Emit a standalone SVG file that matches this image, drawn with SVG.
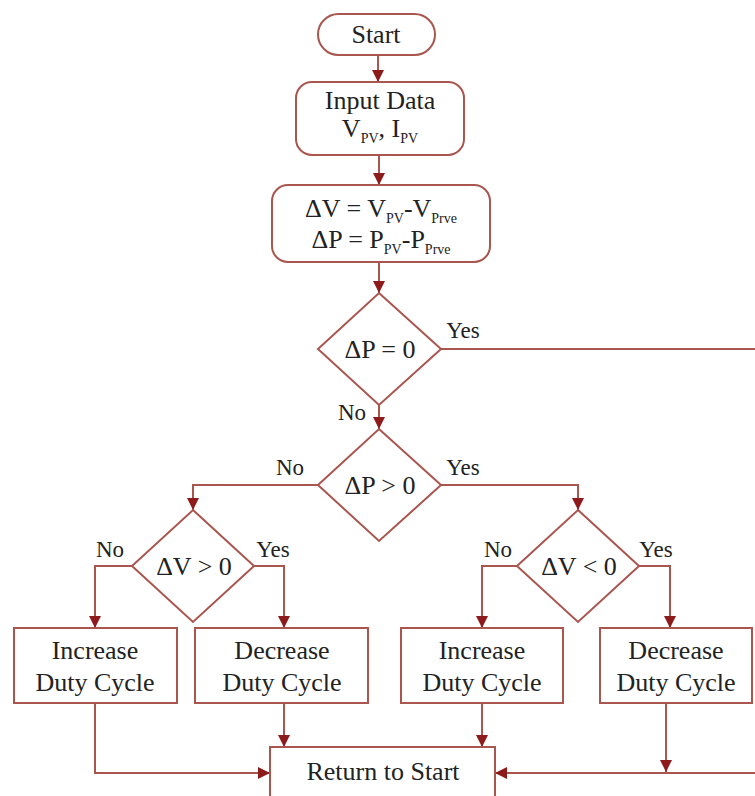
<svg xmlns="http://www.w3.org/2000/svg" width="755" height="796" viewBox="0 0 755 796">
<defs>
<marker id="arr" markerUnits="userSpaceOnUse" markerWidth="12" markerHeight="16" viewBox="0 0 12 16" refX="12" refY="8" orient="auto">
<path d="M0,2 L12,8 L0,14 Z" fill="#8e1b1b"/>
</marker>
<style>
.shape{fill:#ffffff;stroke:#a9564e;stroke-width:2}
.conn{fill:none;stroke:#a9564e;stroke-width:2}
text{font-family:"Liberation Serif","Times New Roman",serif;fill:#222222;text-anchor:middle}
.t{font-size:26px}
.lbl{font-size:23px}
.sub{font-size:14px}
</style>
</defs>
<rect width="755" height="796" fill="#ffffff"/>
<g id="connectors">
<path class="conn" d="M378,55 V82" marker-end="url(#arr)"/>
<path class="conn" d="M379,155 V185" marker-end="url(#arr)"/>
<path class="conn" d="M379,262 V293" marker-end="url(#arr)"/>
<path class="conn" d="M379,405 V429" marker-end="url(#arr)"/>
<path class="conn" d="M441,349 H762 V773 H495" marker-end="url(#arr)"/>
<path class="conn" d="M318,485 H193 V510" marker-end="url(#arr)"/>
<path class="conn" d="M441,485 H578 V510" marker-end="url(#arr)"/>
<path class="conn" d="M132,566 H95 V628" marker-end="url(#arr)"/>
<path class="conn" d="M254,566 H284 V628" marker-end="url(#arr)"/>
<path class="conn" d="M517,566 H482 V628" marker-end="url(#arr)"/>
<path class="conn" d="M639,566 H670 V628" marker-end="url(#arr)"/>
<path class="conn" d="M95,703 V773 H270" marker-end="url(#arr)"/>
<path class="conn" d="M284,703 V747" marker-end="url(#arr)"/>
<path class="conn" d="M482,703 V747" marker-end="url(#arr)"/>
<path class="conn" d="M666,703 V772" marker-end="url(#arr)"/>
</g>
<g id="start">
<rect class="shape" x="318" y="14" width="117" height="41" rx="20.5"/>
<text class="t" x="376" y="43">Start</text>
</g>
<g id="input">
<rect class="shape" x="296" y="82" width="168" height="73" rx="16"/>
<text class="t" x="380" y="109">Input Data</text>
<text class="t" x="380" y="137">V<tspan class="sub" dy="6">PV</tspan><tspan dy="-6">, I</tspan><tspan class="sub" dy="6">PV</tspan></text>
</g>
<g id="calc">
<rect class="shape" x="272" y="185" width="218" height="77" rx="16"/>
<text class="t" x="381" y="217">ΔV = V<tspan class="sub" dy="6">PV</tspan><tspan dy="-6">-V</tspan><tspan class="sub" dy="6">Prve</tspan></text>
<text class="t" x="381" y="248">ΔP = P<tspan class="sub" dy="6">PV</tspan><tspan dy="-6">-P</tspan><tspan class="sub" dy="6">Prve</tspan></text>
</g>
<g id="d1">
<polygon class="shape" points="379,293 441,349 379,405 318,349"/>
<text class="t" x="380" y="358">ΔP = 0</text>
<text class="lbl" x="463" y="338">Yes</text>
<text class="lbl" x="352" y="420">No</text>
</g>
<g id="d2">
<polygon class="shape" points="379,429 441,485 379,541 318,485"/>
<text class="t" x="380" y="494">ΔP &gt; 0</text>
<text class="lbl" x="290" y="475">No</text>
<text class="lbl" x="463" y="475">Yes</text>
</g>
<g id="d3">
<polygon class="shape" points="193,510 254,566 193,622 132,566"/>
<text class="t" x="194" y="575">ΔV &gt; 0</text>
<text class="lbl" x="110" y="557">No</text>
<text class="lbl" x="273" y="557">Yes</text>
</g>
<g id="d4">
<polygon class="shape" points="578,510 639,566 578,622 517,566"/>
<text class="t" x="579" y="575">ΔV &lt; 0</text>
<text class="lbl" x="498" y="557">No</text>
<text class="lbl" x="656" y="557">Yes</text>
</g>
<g id="inc1">
<rect class="shape" x="14" y="628" width="163" height="75"/>
<text class="t" x="95" y="659">Increase</text>
<text class="t" x="95" y="691">Duty Cycle</text>
</g>
<g id="dec1">
<rect class="shape" x="195" y="628" width="173" height="75"/>
<text class="t" x="282" y="659">Decrease</text>
<text class="t" x="282" y="691">Duty Cycle</text>
</g>
<g id="inc2">
<rect class="shape" x="401" y="628" width="162" height="75"/>
<text class="t" x="482" y="659">Increase</text>
<text class="t" x="482" y="691">Duty Cycle</text>
</g>
<g id="dec2">
<rect class="shape" x="600" y="628" width="152" height="75"/>
<text class="t" x="676" y="659">Decrease</text>
<text class="t" x="676" y="691">Duty Cycle</text>
</g>
<g id="return">
<rect class="shape" x="270" y="747" width="225" height="60"/>
<text class="t" x="383" y="780">Return to Start</text>
</g>
</svg>
